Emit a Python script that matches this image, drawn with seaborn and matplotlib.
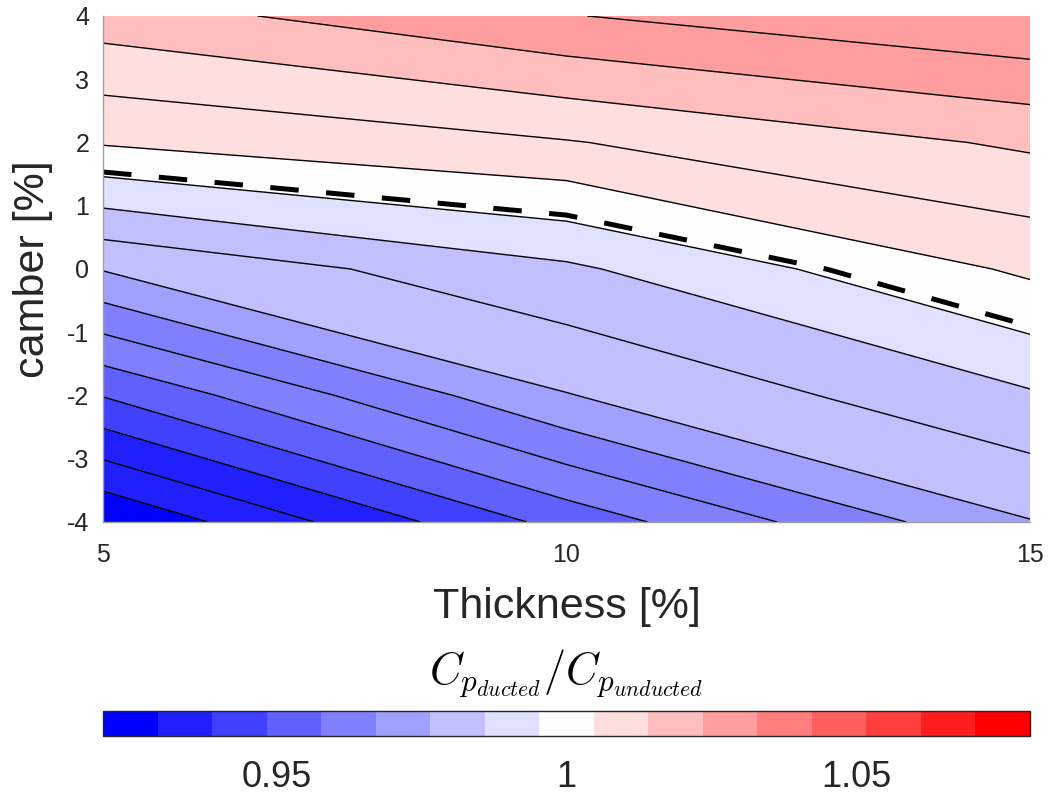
import numpy as np
import pandas as pd
import matplotlib
matplotlib.use("Agg")
import matplotlib.pyplot as plt
from matplotlib.colors import ListedColormap, BoundaryNorm, Normalize
import matplotlib.cm as cm
import seaborn as sns

# ---- data -------------------------------------------------------------
thickness = [5, 10, 15]                 # blade thickness [%]
camber = [-4, -2, 0, 2, 4]              # blade camber [%]

# Cp ratio (ducted / unducted) along camber for each thickness
cp_ratio_t5 = [0.9254, 0.9524, 0.9793, 1.0063, 1.0226]
cp_ratio_t10 = [0.9546, 0.9786, 0.9911, 1.0120, 1.0322]
cp_ratio_t15 = [0.9786, 0.9915, 1.0070, 1.0202, 1.0389]

# iso-lines of the ratio
contour_levels = [0.9320, 0.9387, 0.9454, 0.9521, 0.9588, 0.9655, 0.9722,
                  0.9789, 0.9856, 0.9923, 0.9990, 1.0057, 1.0124, 1.0191,
                  1.0258, 1.0325]
breakeven_level = 1.0                    # ducted == unducted

cbar_limits = (0.92, 1.08)
cbar_ticks = [0.95, 1.0, 1.05]
cbar_ticklabels = ["0.95", "1", "1.05"]
n_colors = 17

# ---- styling ------------------------------------------------------------
sns.set_theme(style="white")
plt.rcParams["font.family"] = ["Liberation Sans", "DejaVu Sans"]
plt.rcParams["mathtext.fontset"] = "cm"
plt.rcParams["axes.unicode_minus"] = False
text_color = "#262626"

df = pd.DataFrame({
    "camber": np.repeat(camber, len(thickness)),
    "thickness": np.tile(thickness, len(camber)),
    "ratio": np.column_stack([cp_ratio_t5, cp_ratio_t10, cp_ratio_t15]).ravel(),
})
grid = df.pivot(index="camber", columns="thickness", values="ratio")

palette = sns.blend_palette(["#0000ff", "#ffffff", "#ff0000"], n_colors=n_colors)
cmap = ListedColormap(palette)
bin_norm = BoundaryNorm(np.linspace(cbar_limits[0], cbar_limits[1], n_colors + 1), n_colors)

# each filled band takes the colour of its lower bounding level
band_edges = [cbar_limits[0]] + contour_levels + [cbar_limits[1]]
band_colors = [cmap(int(bin_norm(v))) for v in band_edges[:-1]]

fig = plt.figure(figsize=(10.48, 7.94), dpi=100)
ax = fig.add_axes([0.0983, 0.3426, 0.8845, 0.6373])

X = grid.columns.values
Y = grid.index.values
Z = grid.values

ax.contourf(X, Y, Z, levels=band_edges, colors=band_colors)
ax.contour(X, Y, Z, levels=contour_levels, colors="black", linewidths=1.0)
ax.contour(X, Y, Z, levels=[breakeven_level], colors="black", linewidths=3.6,
           linestyles=[(0, (5.7, 5.5))])

ax.set_xlim(min(thickness), max(thickness))
ax.set_ylim(min(camber), max(camber))
ax.set_xticks(thickness)
ax.set_xticklabels([str(t) for t in thickness])
ax.set_yticks(range(-4, 5))
ax.tick_params(axis="both", length=0, labelsize=18, colors=text_color)
ax.tick_params(axis="x", pad=15)
ax.tick_params(axis="y", pad=10)
for side in ["top", "right"]:
    ax.spines[side].set_visible(False)
for side in ["left", "bottom"]:
    ax.spines[side].set_color("#a0a0a0")
    ax.spines[side].set_linewidth(1.0)

ax.set_xlabel("Thickness [%]", fontsize=31, color=text_color)
ax.xaxis.set_label_coords(0.5, -0.1897)
ax.xaxis.label.set_va("baseline")
ax.set_ylabel("camber [%]", fontsize=31, color=text_color)
ax.yaxis.set_label_coords(-0.0636, 0.5)
ax.yaxis.label.set_rotation_mode("anchor")
ax.yaxis.label.set_va("baseline")

# ---- colour bar ---------------------------------------------------------
cax = fig.add_axes([0.0983, 0.0730, 0.8845, 0.0315])
sm = cm.ScalarMappable(norm=Normalize(*cbar_limits), cmap=cmap)
cb = fig.colorbar(sm, cax=cax, orientation="horizontal", ticks=cbar_ticks)
cb.set_ticklabels(cbar_ticklabels)
cb.ax.tick_params(direction="in", length=7, width=1.0, color=text_color,
                  labelsize=26, labelcolor=text_color, pad=17)
cb.outline.set_edgecolor(text_color)
cb.outline.set_linewidth(1.0)
cb.ax.minorticks_off()

fig.text(0.5405, 1 - 684 / 794, r"$C_{p_{ducted}}/C_{p_{unducted}}$",
         fontsize=32, ha="center", va="baseline", color="black")

fig.savefig("out.png", dpi=100)
